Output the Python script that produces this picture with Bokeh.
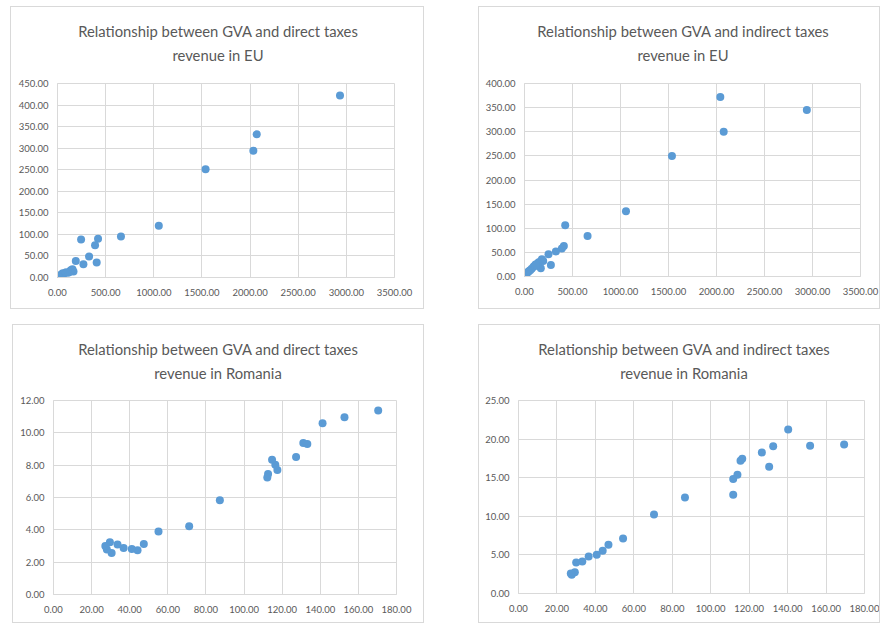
from bokeh.plotting import figure
from bokeh.layouts import column, row, Spacer
from bokeh.models import NumeralTickFormatter, FixedTicker, Range1d, Div
from bokeh.embed import file_html
from bokeh.resources import INLINE

# ---- data ----
eu_gva_direct = [2934, 2069, 2034, 1538, 1052, 659, 421, 390, 245, 328, 407, 269, 190, 155,
                 166, 138, 125, 110, 90, 70, 55, 48, 38, 30, 22, 15, 10, 5]
eu_direct = [422, 332, 294, 251, 120, 95, 90, 75, 88, 49, 35, 31, 38, 19,
             14, 17, 13, 11, 12, 9, 10, 8, 6, 5, 3, 2, 2, 1]

eu_gva_indirect = [2040, 2941, 2075, 1536, 1057, 657, 424, 410, 389, 327, 250, 275, 195, 153,
                   170, 104, 128, 181, 94, 75, 59, 45, 35, 24, 15, 7, 140, 115]
eu_indirect = [372, 345, 300, 250, 135, 84, 106, 63, 58, 52, 46, 24, 32, 30,
               17, 22, 24, 36, 20, 16, 13, 11, 9, 8, 5, 3, 28, 25]

ro_gva_direct = [170.4, 152.7, 141.2, 133.2, 131.1, 127.3, 117.5, 116.4, 114.7, 112.6, 112.2,
                 87.3, 71.2, 55.1, 47.4, 44.1, 41.1, 36.8, 33.6, 30.5, 29.6, 28.0, 27.2]
ro_direct = [11.38, 10.97, 10.59, 9.31, 9.37, 8.50, 7.70, 8.03, 8.34, 7.45, 7.24,
             5.83, 4.22, 3.89, 3.12, 2.73, 2.81, 2.88, 3.10, 2.57, 3.23, 2.79, 3.00]

ro_gva_indirect = [169.4, 151.7, 140.3, 132.5, 130.4, 126.6, 116.4, 115.5, 113.9, 111.7, 111.7,
                   86.6, 70.5, 54.4, 46.8, 43.8, 40.7, 36.5, 33.2, 30.0, 29.3, 27.7, 27.2]
ro_indirect = [19.31, 19.14, 21.25, 19.09, 16.41, 18.27, 17.45, 17.19, 15.38, 14.82, 12.79,
               12.44, 10.24, 7.13, 6.31, 5.53, 5.01, 4.79, 4.15, 4.02, 2.76, 2.42, 2.59]

titles = [
    ["Relationship between GVA and direct taxes", "revenue in EU"],
    ["Relationship between GVA and indirect taxes", "revenue in EU"],
    ["Relationship between GVA and direct taxes", "revenue in Romania"],
    ["Relationship between GVA and indirect taxes", "revenue in Romania"],
]

eu_x_ticks = [0, 500, 1000, 1500, 2000, 2500, 3000, 3500]
eu_direct_y_ticks = [0, 50, 100, 150, 200, 250, 300, 350, 400, 450]
eu_indirect_y_ticks = [0, 50, 100, 150, 200, 250, 300, 350, 400]
ro_x_ticks = [0, 20, 40, 60, 80, 100, 120, 140, 160, 180]
ro_direct_y_ticks = [0, 2, 4, 6, 8, 10, 12]
ro_indirect_y_ticks = [0, 5, 10, 15, 20, 25]

FONT = "Lato"
TXT = "#595959"
GRID = "#d9d9d9"
DOT = "#5b9bd5"
TITLE_H = 62


def make(title, xs, ys, xticks, yticks, w, h, bl, br, bt, bb, shift):
    p = figure(width=w, height=h - TITLE_H, output_backend="svg", toolbar_location=None,
               x_range=Range1d(xticks[0], xticks[-1]), y_range=Range1d(yticks[0], yticks[-1]),
               min_border_left=bl, min_border_right=br, min_border_top=bt - TITLE_H,
               min_border_bottom=bb)
    p.outline_line_color = GRID
    for ax, ticks in ((p.xaxis, xticks), (p.yaxis, yticks)):
        ax.ticker = FixedTicker(ticks=ticks)
        ax.formatter = NumeralTickFormatter(format="0.00")
        ax.major_tick_line_color = None
        ax.minor_tick_line_color = None
        ax.major_tick_out = 0
        ax.major_tick_in = 0
        ax.axis_line_color = GRID
        ax.major_label_text_font = FONT
        ax.major_label_text_font_size = "9.5px"
        ax.major_label_text_color = TXT
    p.xaxis.major_label_standoff = 11
    p.yaxis.major_label_standoff = 9
    p.xgrid.grid_line_color = GRID
    p.ygrid.grid_line_color = GRID
    p.scatter(xs, ys, size=8, color=DOT, line_color=None)

    html = ('<div style="width:%dpx;box-sizing:border-box;text-align:center;'
            'padding-left:%dpx;padding-top:12px;'
            'line-height:24px;font-family:Lato;font-size:14.8px;color:%s;white-space:nowrap">'
            '%s<br>%s</div>') % (w, 2 * shift, TXT, title[0], title[1])
    d = Div(text=html, width=w, height=TITLE_H, margin=(0, 0, 0, 0))
    panel = column(d, p, spacing=0)
    panel.styles = {"border": "1px solid " + GRID, "background-color": "white"}
    return panel


# panel: content sizes (outer = content + 2px border)
p1 = make(titles[0], eu_gva_direct, eu_direct, eu_x_ticks, eu_direct_y_ticks,
          412, 301, 46, 29, 76, 31, 1)
p2 = make(titles[1], eu_gva_indirect, eu_indirect, eu_x_ticks, eu_indirect_y_ticks,
          400, 301, 45, 19, 76, 32, 4)
p3 = make(titles[2], ro_gva_direct, ro_direct, ro_x_ticks, ro_direct_y_ticks,
          410, 297, 40, 27, 75, 28, 0)
p4 = make(titles[3], ro_gva_indirect, ro_indirect, ro_x_ticks, ro_indirect_y_ticks,
          400, 297, 39, 15, 75, 29, 5)

row1 = row(Spacer(width=10, height=10), p1, Spacer(width=54, height=10), p2)
row2 = row(Spacer(width=12, height=10), p3, Spacer(width=54, height=10), p4)
layout = column(Spacer(width=10, height=6), row1, Spacer(width=10, height=15), row2)

open("out.html", "w").write(file_html(layout, INLINE))
